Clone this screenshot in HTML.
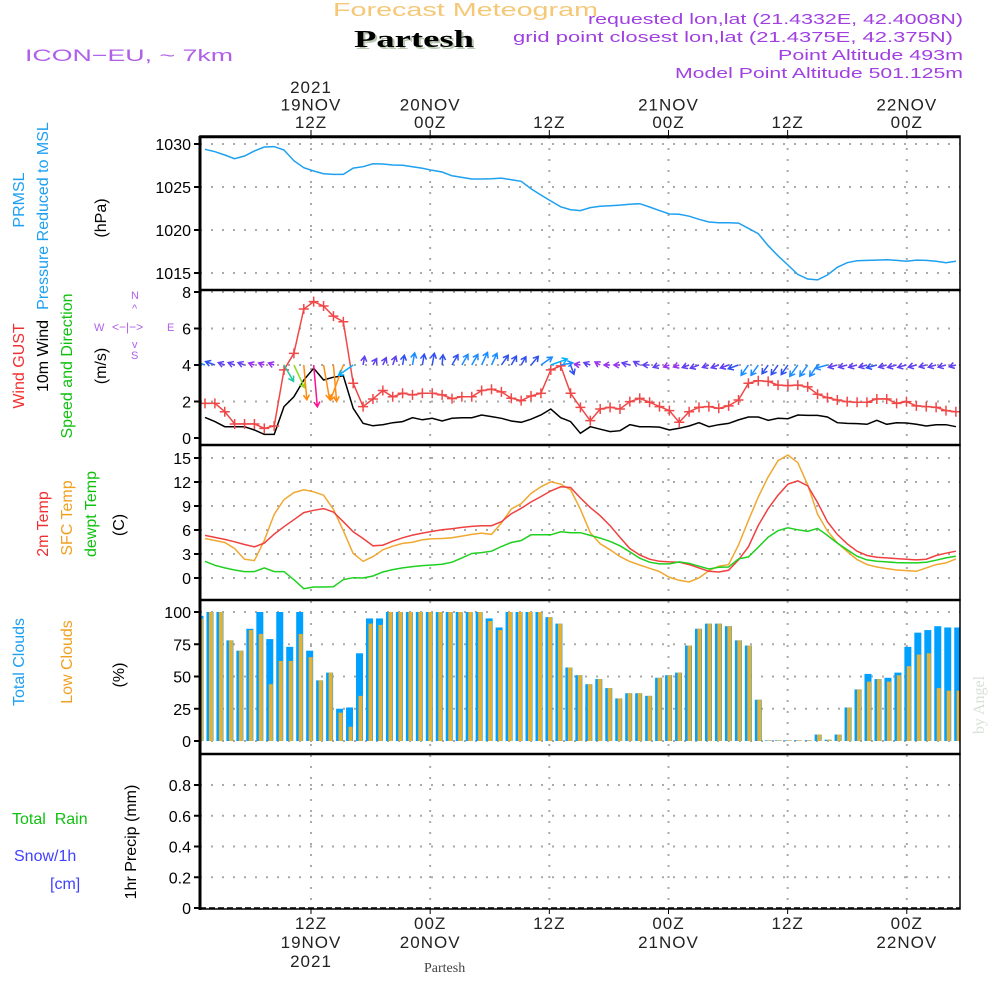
<!DOCTYPE html>
<html><head><meta charset="utf-8"><style>
html,body{margin:0;padding:0;background:#fff;}
svg{display:block;font-family:"Liberation Sans",sans-serif;}
</style></head><body>
<svg id="chart" width="1000" height="1000" viewBox="0 0 1000 1000" xmlns="http://www.w3.org/2000/svg">
<rect x="0" y="0" width="1000" height="1000" fill="#fff"/>
<defs>
<clipPath id="cp1"><rect x="200" y="137" width="760" height="153"/></clipPath>
<clipPath id="cp2"><rect x="200" y="291" width="760" height="153"/></clipPath>
<clipPath id="cp3"><rect x="200" y="446" width="760" height="153"/></clipPath>
<clipPath id="cp4"><rect x="201" y="601" width="759" height="153"/></clipPath>
</defs>
<g>
<text x="333" y="16" font-size="18" fill="#f5c878" textLength="265" lengthAdjust="spacingAndGlyphs">Forecast Meteogram</text>
<text x="356" y="49" font-size="24" font-weight="bold" font-family="Liberation Serif,serif" fill="#b8c8b0" textLength="120" lengthAdjust="spacingAndGlyphs">Partesh</text>
<text x="354" y="47" font-size="24" font-weight="bold" font-family="Liberation Serif,serif" fill="#000" textLength="120" lengthAdjust="spacingAndGlyphs">Partesh</text>
<text x="25" y="61" font-size="17" fill="#b060e8" textLength="208" lengthAdjust="spacingAndGlyphs">ICON−EU, ~ 7km</text>
<text x="588" y="24" font-size="15" fill="#a040e0" textLength="375" lengthAdjust="spacingAndGlyphs">requested lon,lat (21.4332E, 42.4008N)</text>
<text x="513" y="42" font-size="15" fill="#a040e0" textLength="440" lengthAdjust="spacingAndGlyphs">grid point closest lon,lat (21.4375E, 42.375N)</text>
<text x="778" y="60" font-size="15" fill="#a040e0" textLength="185" lengthAdjust="spacingAndGlyphs">Point Altitude 493m</text>
<text x="675" y="78" font-size="15" fill="#a040e0" textLength="288" lengthAdjust="spacingAndGlyphs">Model Point Altitude 501.125m</text>
</g>
<g id="grid"></g>
<g id="series"></g>
<g id="axes"></g>
<g font-size="16">
<text transform="translate(24,200) rotate(-90)" text-anchor="middle" fill="#1ea0f0">PRMSL</text>
<text transform="translate(48,216) rotate(-90)" text-anchor="middle" fill="#1ea0f0">Pressure Reduced to MSL</text>
<text transform="translate(106,218) rotate(-90)" text-anchor="middle" fill="#000">(hPa)</text>
<text transform="translate(24,366) rotate(-90)" text-anchor="middle" fill="#f03030">Wind GUST</text>
<text transform="translate(48,356) rotate(-90)" text-anchor="middle" fill="#000">10m Wind</text>
<text transform="translate(72,366) rotate(-90)" text-anchor="middle" fill="#10c010">Speed and Direction</text>
<text transform="translate(106,366) rotate(-90)" text-anchor="middle" fill="#000">(m/s)</text>
<text transform="translate(48,524) rotate(-90)" text-anchor="middle" fill="#f03030">2m Temp</text>
<text transform="translate(72,518) rotate(-90)" text-anchor="middle" fill="#f0a020">SFC Temp</text>
<text transform="translate(96,514) rotate(-90)" text-anchor="middle" fill="#10c010">dewpt Temp</text>
<text transform="translate(124,525) rotate(-90)" text-anchor="middle" fill="#000">(C)</text>
<text transform="translate(24,662) rotate(-90)" text-anchor="middle" fill="#1ea0f0">Total Clouds</text>
<text transform="translate(72,662) rotate(-90)" text-anchor="middle" fill="#f0a020">Low Clouds</text>
<text transform="translate(124,675) rotate(-90)" text-anchor="middle" fill="#000">(%)</text>
<text x="12" y="824" fill="#10c010" xml:space="preserve">Total  Rain</text>
<text x="14" y="861" fill="#4040ff">Snow/1h</text>
<text x="50" y="889" fill="#4040ff">[cm]</text>
<text transform="translate(136,842) rotate(-90)" text-anchor="middle" fill="#000">1hr Precip (mm)</text>
<text x="424" y="972" font-size="14" font-family="Liberation Serif,serif" fill="#444">Partesh</text>
<text transform="translate(984,705) rotate(-90)" text-anchor="middle" font-size="16" font-family="Liberation Serif,serif" fill="#d8e0d8">by Angel</text>
</g>
<g fill="#b060e8" stroke="none" font-size="11">
<text x="94" y="331">W</text>
<text x="167" y="331">E</text>
<text x="131" y="299">N</text>
<text x="131" y="359">S</text>
<text x="112" y="331" font-size="12">&lt;−|−&gt;</text>
<text x="132" y="312">^</text>
<text x="132" y="348">v</text>
</g>
</svg>
<script>
// ---- data (hourly) ----
const pressure = [1029.38,1029.11,1028.72,1028.29,1028.6,1029.2,1029.65,1029.7,1029.3,1028.06,1027.25,1026.86,1026.55,1026.47,1026.47,1027.2,1027.36,1027.7,1027.67,1027.56,1027.52,1027.36,1027.17,1026.94,1026.74,1026.3,1026.12,1025.93,1025.93,1025.97,1026.04,1025.85,1025.66,1024.8,1024.07,1023.37,1022.7,1022.36,1022.25,1022.6,1022.75,1022.83,1022.9,1023.0,1023.06,1022.67,1022.25,1021.86,1021.82,1021.6,1021.24,1020.93,1020.85,1020.85,1020.8,1020.2,1019.57,1018.18,1017.0,1015.93,1014.84,1014.3,1014.2,1014.77,1015.66,1016.2,1016.43,1016.47,1016.5,1016.55,1016.47,1016.36,1016.5,1016.47,1016.36,1016.2,1016.36];
const gust = [1.9,1.9,1.44,0.77,0.77,0.77,0.53,0.66,3.73,4.64,7.07,7.47,7.23,6.68,6.37,3.0,1.72,2.14,2.6,2.26,2.45,2.36,2.45,2.45,2.36,2.16,2.26,2.26,2.6,2.67,2.53,2.18,2.05,2.3,2.45,3.73,3.95,2.45,1.68,0.95,1.59,1.68,1.59,1.99,2.17,1.96,1.72,1.5,0.86,1.44,1.68,1.72,1.63,1.76,2.08,3.0,3.14,3.1,2.9,2.87,2.9,2.8,2.4,2.21,2.08,1.99,1.96,1.96,2.14,2.14,1.9,1.99,1.76,1.72,1.68,1.5,1.44];
const wind = [1.13,0.9,0.62,0.62,0.62,0.44,0.2,0.2,1.72,2.26,3.18,3.82,3.18,3.33,3.41,1.63,0.8,0.67,0.73,0.84,0.9,1.11,1.0,1.08,0.93,1.08,1.11,1.11,1.26,1.17,1.08,0.93,0.86,1.03,1.26,1.59,1.11,0.9,0.26,0.62,0.48,0.35,0.4,0.73,0.62,0.62,0.6,0.44,0.53,0.66,0.84,0.62,0.73,0.8,0.99,1.15,1.15,0.97,1.08,1.06,1.26,1.24,1.24,1.15,0.84,0.8,0.79,0.75,0.97,0.75,0.84,0.82,0.75,0.66,0.73,0.73,0.62];
const windDir = [290,290,290,290,290,290,290,290,150,155,175,175,170,175,200,235,10,30,25,20,10,10,10,10,5,30,30,30,25,25,35,30,30,40,55,70,80,160,280,290,300,270,270,285,300,270,250,250,250,250,250,250,250,250,250,215,215,215,215,215,215,215,215,255,255,255,255,255,255,255,255,255,255,255,255,255,255];
const temp2m = [5.32,5.07,4.82,4.52,4.19,3.9,4.36,5.49,6.41,7.29,8.17,8.46,8.67,8.25,7.04,5.78,4.94,4.02,4.1,4.6,5.03,5.36,5.61,5.82,6.03,6.16,6.33,6.45,6.54,6.54,7.04,8.04,8.71,9.5,10.18,10.89,11.4,11.31,10.0,8.8,7.79,6.54,5.07,3.69,2.89,2.35,2.09,2.01,1.97,1.68,1.26,0.84,0.75,0.96,2.26,3.9,6.58,8.67,10.35,11.73,12.15,11.52,9.43,7.04,5.45,4.27,3.35,2.81,2.6,2.51,2.43,2.35,2.26,2.35,2.81,3.1,3.35];
const sfcTemp = [4.94,4.69,4.44,3.69,2.35,2.18,4.69,7.96,9.8,10.68,11.02,10.77,10.35,8.59,5.91,3.06,2.09,2.68,3.52,3.98,4.32,4.48,4.78,4.9,4.94,5.03,5.24,5.45,5.61,5.45,6.87,8.63,9.3,10.56,11.4,12.02,11.73,11.02,8.6,5.66,4.27,3.52,2.68,2.05,1.63,1.21,0.8,0.08,-0.29,-0.5,0,0.92,1.47,1.68,4.11,7.2,10.14,12.65,14.66,15.37,14.41,11.65,7.96,5.87,4.4,3.31,2.3,1.68,1.38,1.17,1.0,0.92,0.84,1.26,1.68,1.89,2.39];
const dewpt = [2.09,1.59,1.26,1.0,0.8,0.8,1.26,0.8,0.8,-0.21,-1.34,-1.13,-1.13,-1.09,-0.21,0.04,0,0.25,0.75,1.05,1.26,1.42,1.55,1.63,1.72,1.97,2.51,3.06,3.18,3.35,3.94,4.44,4.69,5.4,5.4,5.4,5.78,5.66,5.66,5.32,4.99,4.57,4.02,3.27,2.47,1.97,1.76,1.76,2.01,1.84,1.47,1.13,1.34,1.38,2.39,2.64,3.85,5.11,5.91,6.28,6.03,5.82,6.2,5.32,4.36,3.52,2.72,2.26,2.09,2.01,1.93,1.89,1.89,1.97,2.22,2.51,2.72];
const totalClouds = [97,100,100,78,70,87,100,79,100,73,100,70,47,53,25,26,68,95,95,100,100,100,100,100,100,100,100,100,100,95,88,100,100,100,100,96,91,57,51,44,48,41,33,37,37,35,49,51,53,74,87,91,91,89,78,74,32,0.5,0.5,0.5,0.5,0.5,5,1,5,26,40,52,48,49,53,73,84,86,89,88,88];
const lowClouds = [95,100,100,78,70,86,83,44,62,62,83,65,47,53,22,11,35,91,90,100,100,100,100,100,100,100,100,100,100,93,86,100,100,100,100,96,91,57,51,44,48,41,33,37,37,35,49,51,53,74,87,91,91,89,78,74,32,0.5,0.5,0.5,0.5,0.5,5,1,5,26,40,46,48,46,51,58,67,68,41,39,39];
const precip = [];
const pTicks = [1015,1020,1025,1030];
const wTicks = [0,2,4,6,8];
const tTicks = [0,3,6,9,12,15];
const cTicks = [0,25,50,75,100];
const rTicks = [0,0.2,0.4,0.6,0.8];
const rTickLabels = ["0","0.2","0.4","0.6","0.8"];
const timeTickHours = [12,24,36,48,60,72];
const topLabels = [["2021","19NOV","12Z"],["","20NOV","00Z"],["","","12Z"],["","21NOV","00Z"],["","","12Z"],["","22NOV","00Z"]];
const bottomLabels = [["12Z","19NOV","2021"],["00Z","20NOV",""],["12Z","",""],["00Z","21NOV",""],["12Z","",""],["00Z","22NOV",""]];

// ---- scales ----
const NS="http://www.w3.org/2000/svg";
const L=200,R=960;
const xLine = i => 205 + 9.88*i;
const xBar = i => 200 + 9.97*i;
const xTime = h => 311 + (h-12)*9.93;
const yP = v => 144 + (1030 - v)*8.6;
const yW = v => 438 - v*18.25;
const yT = v => 578 - v*8;
const yC = v => 741 - v*1.29;
const yR = v => 908 - v*153.75;
const panels=[[137,290],[291,445],[446,600],[601,754],[755,909]];

function mk(tag,attrs,parent){const e=document.createElementNS(NS,tag);for(const k in attrs)e.setAttribute(k,attrs[k]);parent.appendChild(e);return e;}
const grid=document.getElementById('grid'), ser=document.getElementById('series'), ax=document.getElementById('axes');

function hgrid(vals,yf){vals.forEach(v=>{const l=mk('line',{x1:L,x2:R,y1:yf(v),y2:yf(v),stroke:'#aaa','stroke-width':2,'stroke-dasharray':'2 9'},grid);

});}
hgrid(pTicks,yP);hgrid(wTicks.slice(1),yW);hgrid(tTicks,yT);hgrid(cTicks,yC);hgrid(rTicks.slice(1),yR);
timeTickHours.forEach(h=>{panels.forEach(p=>{const l=mk('line',{x1:xTime(h),x2:xTime(h),y1:p[0],y2:p[1],stroke:'#aaa','stroke-width':2,'stroke-dasharray':'2 9'},grid);

});});

function poly(vals,xf,yf,color,clip,name,w){const pts=vals.map((v,i)=>xf(i).toFixed(1)+','+yf(v).toFixed(1)).join(' ');
const e=mk('polyline',{points:pts,fill:'none',stroke:color,'stroke-width':w||1.5,'clip-path':'url(#'+clip+')'},ser);

return e;}
poly(pressure,xLine,yP,'#1ea0f0','cp1','pressure-line');

totalClouds.forEach((v,i)=>{const x=xBar(i);
const b=mk('rect',{x:x-3.5,y:yC(v),width:7,height:741-yC(v),fill:'#00a0ff','clip-path':'url(#cp4)'},ser);


const o=mk('rect',{x:x-1,y:yC(lowClouds[i]),width:4,height:741-yC(lowClouds[i]),fill:'#e8b030','clip-path':'url(#cp4)'},ser);

});

poly(sfcTemp,xLine,yT,'#f0a830','cp3','sfc-temp-line');
poly(temp2m,xLine,yT,'#f04040','cp3','temp2m-line');
poly(dewpt,xLine,yT,'#20d020','cp3','dewpt-line');

poly(wind,xLine,yW,'#000','cp2','wind-speed-line');
poly(gust,xLine,yW,'#f04848','cp2','gust-line');
gust.forEach((v,i)=>{const x=xLine(i),y=yW(v);
const m=mk('path',{d:`M${x-5},${y}h10M${x},${y-5}v10`,stroke:'#f04848','stroke-width':1.5,'clip-path':'url(#cp2)'},ser);

});
function wcol(s){if(s<0.55)return '#9933ee';if(s<0.85)return '#6040f0';if(s<1.1)return '#3050f0';if(s<1.4)return '#1a8cff';if(s<1.65)return '#00b0ff';if(s<2.0)return '#20c8a0';if(s<2.6)return '#90d820';if(s<3.7)return '#ff8c10';return '#ff1090';}
wind.forEach((s,i)=>{const x=xLine(i),y=yW(4);const a=windDir[i]*Math.PI/180;const len=Math.max(6,s*11);
const dx=Math.sin(a),dy=-Math.cos(a);const x2=x+dx*len,y2=y+dy*len;
const hx1=x2-dx*5+dy*3,hy1=y2-dy*5-dx*3,hx2=x2-dx*5-dy*3,hy2=y2-dy*5+dx*3;
const c=wcol(s);
const ar=mk('path',{d:`M${x},${y}L${x2},${y2}M${hx1},${hy1}L${x2},${y2}L${hx2},${hy2}`,stroke:c,'stroke-width':1.5,fill:'none','clip-path':'url(#cp2)'},ser);

});

const pb=mk('line',{x1:L,x2:R,y1:908,y2:908,stroke:'#000','stroke-width':1.5,'stroke-dasharray':'6 3'},ser);



panels.forEach((p,k)=>{const r=mk('rect',{x:L,y:p[0]-1,width:R-L,height:p[1]-p[0]+1,fill:'none',stroke:'#000','stroke-width':1.5},ax);

});
[137,290,445,600,754].forEach(y=>{const l=mk('line',{x1:L,x2:R,y1:y,y2:y,stroke:'#000','stroke-width':2.5},ax);

});
const la=mk('line',{x1:L,x2:L,y1:136,y2:910,stroke:'#000','stroke-width':3},ax);



function yticks(vals,labels,yf){vals.forEach((v,i)=>{const y=yf(v);
const t=mk('line',{x1:194,x2:200,y1:y,y2:y,stroke:'#000','stroke-width':2},ax);


const tx=mk('text',{x:191,y:y+6,'text-anchor':'end','font-size':16,fill:'#000'},ax);
tx.textContent=labels[i];

});}
yticks(pTicks,pTicks.map(String),yP);yticks(wTicks,wTicks.map(String),yW);yticks(tTicks,tTicks.map(String),yT);yticks(cTicks,cTicks.map(String),yC);yticks(rTicks,rTickLabels,yR);

timeTickHours.forEach((h,k)=>{const x=xTime(h);
const t1=mk('line',{x1:x,x2:x,y1:130,y2:137,stroke:'#000','stroke-width':1},ax);


const t2=mk('line',{x1:x,x2:x,y1:909,y2:914,stroke:'#000','stroke-width':1},ax);


topLabels[k].forEach((s,j)=>{if(!s)return;const t=mk('text',{x:x,y:93+j*17.5,'text-anchor':'middle','font-size':17,fill:'#222','letter-spacing':'1'},ax);t.textContent=s;

});
bottomLabels[k].forEach((s,j)=>{if(!s)return;const t=mk('text',{x:x,y:929+j*19,'text-anchor':'middle','font-size':17,fill:'#222','letter-spacing':'1'},ax);t.textContent=s;

});});
</script>
</body></html>
